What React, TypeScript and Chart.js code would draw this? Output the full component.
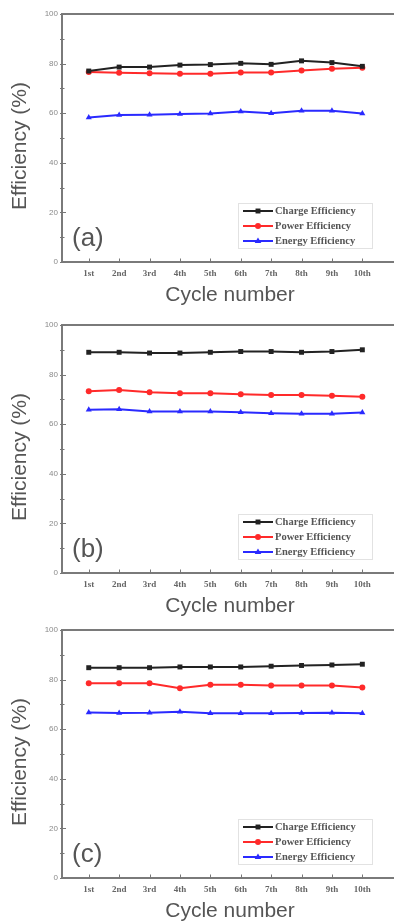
import React, { useEffect, useRef } from 'react';
import { Chart, registerables } from 'chart.js';

Chart.register(...registerables);

// ---- data ----
const cycleLabels = ['1st', '2nd', '3rd', '4th', '5th', '6th', '7th', '8th', '9th', '10th'];
const seriesNames = ['Charge Efficiency', 'Power Efficiency', 'Energy Efficiency'];
const panelTags = ['(a)', '(b)', '(c)'];
const yTickValues = [0, 20, 40, 60, 80, 100];

const chargeA = [77.0, 78.6, 78.6, 79.4, 79.6, 80.1, 79.7, 81.1, 80.4, 78.9];
const powerA = [76.6, 76.3, 76.1, 75.9, 75.9, 76.4, 76.4, 77.2, 77.9, 78.3];
const energyA = [58.3, 59.3, 59.4, 59.7, 59.9, 60.7, 60.0, 61.0, 61.0, 59.9];

const chargeB = [89.0, 89.0, 88.7, 88.7, 89.0, 89.3, 89.3, 89.0, 89.3, 90.0];
const powerB = [73.3, 73.8, 72.9, 72.5, 72.5, 72.1, 71.8, 71.8, 71.5, 71.1];
const energyB = [65.8, 66.0, 65.1, 65.1, 65.1, 64.8, 64.4, 64.2, 64.2, 64.7];

const chargeC = [84.8, 84.8, 84.8, 85.1, 85.1, 85.1, 85.4, 85.7, 85.9, 86.2];
const powerC = [78.5, 78.5, 78.5, 76.5, 77.9, 77.9, 77.6, 77.6, 77.6, 76.8];
const energyC = [66.7, 66.5, 66.6, 67.0, 66.4, 66.4, 66.4, 66.5, 66.6, 66.4];

const panelSeries = [
  [chargeA, powerA, energyA],
  [chargeB, powerB, energyB],
  [chargeC, powerC, energyC],
];

// ---- styles ----
const W = 394;
const H = 308;
const panelTops = [0, 311, 616];
const seriesColors = ['#222222', '#ff2a2a', '#2a2aff'];
const seriesPointStyles = ['rect', 'circle', 'triangle'];
const seriesRadius = [3.5, 3, 3.5];
const frameColor = '#7a7a7a';
const textColor = '#555555';

function drawMarker(ctx: CanvasRenderingContext2D, style: string, x: number, y: number, r: number, color: string) {
  ctx.fillStyle = color;
  ctx.beginPath();
  if (style === 'rect') {
    const s = r * Math.SQRT1_2;
    ctx.rect(x - s, y - s, 2 * s, 2 * s);
  } else if (style === 'circle') {
    ctx.arc(x, y, r, 0, Math.PI * 2);
  } else {
    ctx.moveTo(x, y - r);
    ctx.lineTo(x + r * 0.95, y + r * 0.6);
    ctx.lineTo(x - r * 0.95, y + r * 0.6);
    ctx.closePath();
  }
  ctx.fill();
}

function makeDecorPlugin(tag: string) {
  return {
    id: 'decor',
    beforeDatasetsDraw(chart: any) {
      const { ctx, chartArea: ca, scales } = chart;
      const x = scales.x;
      const y = scales.y;
      ctx.save();
      ctx.strokeStyle = frameColor;
      ctx.lineWidth = 2;
      ctx.beginPath();
      ctx.moveTo(W + 2, ca.top);
      ctx.lineTo(ca.left, ca.top);
      ctx.lineTo(ca.left, ca.bottom);
      ctx.lineTo(W + 2, ca.bottom);
      ctx.stroke();
      ctx.lineWidth = 1;
      ctx.strokeStyle = '#777777';
      for (let v = 0; v <= 100; v += 10) {
        const yy = Math.round(y.getPixelForValue(v)) + 0.5;
        const len = v % 20 === 0 ? 4 : 2.5;
        ctx.beginPath();
        ctx.moveTo(ca.left - 2, yy);
        ctx.lineTo(ca.left + len, yy);
        ctx.stroke();
      }
      cycleLabels.forEach((_, i) => {
        const xx = Math.round(x.getPixelForValue(i + 1)) + 0.5;
        ctx.beginPath();
        ctx.moveTo(xx, ca.bottom + 1);
        ctx.lineTo(xx, ca.bottom - 3.5);
        ctx.stroke();
      });
      ctx.restore();
    },
    afterDraw(chart: any) {
      const { ctx } = chart;
      ctx.save();
      // axis titles
      ctx.fillStyle = textColor;
      ctx.font = '21px "Liberation Sans", Arial, sans-serif';
      ctx.textAlign = 'center';
      ctx.textBaseline = 'middle';
      ctx.fillText('Cycle number', 230, 295);
      ctx.save();
      ctx.translate(20, 146);
      ctx.rotate(-Math.PI / 2);
      ctx.fillText('Efficiency (%)', 0, 0);
      ctx.restore();
      // panel tag
      ctx.font = '26px "Liberation Sans", Arial, sans-serif';
      ctx.textAlign = 'left';
      ctx.fillText(tag, 72, 239);
      // legend
      ctx.fillStyle = '#ffffff';
      ctx.fillRect(238, 203, 134, 45);
      ctx.strokeStyle = '#e2e2e2';
      ctx.lineWidth = 1;
      ctx.strokeRect(238.5, 203.5, 134, 45);
      chart.data.datasets.forEach((ds: any, i: number) => {
        const ry = 211 + i * 15;
        ctx.strokeStyle = ds.borderColor;
        ctx.lineWidth = 2;
        ctx.beginPath();
        ctx.moveTo(243, ry);
        ctx.lineTo(273, ry);
        ctx.stroke();
        drawMarker(ctx, ds.pointStyle, 258, ry, ds.pointRadius, ds.borderColor);
        ctx.fillStyle = textColor;
        ctx.font = 'bold 10.5px "Liberation Serif", "Times New Roman", serif';
        ctx.textAlign = 'left';
        ctx.textBaseline = 'middle';
        ctx.fillText(ds.label, 275, ry + 0.5);
      });
      ctx.restore();
    },
  };
}

function Panel({ index }: { index: number }) {
  const ref = useRef<HTMLCanvasElement | null>(null);
  useEffect(() => {
    const canvas = ref.current;
    if (!canvas) return;
    const series = panelSeries[index];
    const chart = new Chart(canvas, {
      type: 'line',
      data: {
        datasets: series.map((vals, i) => ({
          label: seriesNames[i],
          data: vals.map((v, k) => ({ x: k + 1, y: v })),
          borderColor: seriesColors[i],
          backgroundColor: seriesColors[i],
          pointBackgroundColor: seriesColors[i],
          pointBorderColor: seriesColors[i],
          pointStyle: seriesPointStyles[i],
          pointRadius: seriesRadius[i],
          pointBorderWidth: 0,
          borderWidth: 2,
          tension: 0,
          fill: false,
        })),
      },
      options: {
        animation: false,
        responsive: false,
        maintainAspectRatio: false,
        devicePixelRatio: 1,
        layout: { padding: { top: 14, right: 0, left: 0, bottom: 0 } },
        plugins: { legend: { display: false }, tooltip: { enabled: false } },
        scales: {
          x: {
            type: 'linear',
            min: 0.12,
            max: 10.91,
            grid: { display: false, drawTicks: false },
            border: { display: false },
            afterFit: (s: any) => { s.height = 46; },
            afterBuildTicks: (s: any) => { s.ticks = cycleLabels.map((_, i) => ({ value: i + 1 })); },
            ticks: {
              autoSkip: false,
              maxRotation: 0,
              padding: 6,
              color: '#666666',
              font: { family: '"Liberation Serif", "Times New Roman", serif', size: 9, weight: 'bold' },
              callback: (v: any) => cycleLabels[Math.round(Number(v)) - 1] ?? '',
            },
          },
          y: {
            type: 'linear',
            min: 0,
            max: 100,
            grid: { display: false, drawTicks: false },
            border: { display: false },
            afterFit: (s: any) => { s.width = 62; },
            afterBuildTicks: (s: any) => { s.ticks = yTickValues.map((v) => ({ value: v })); },
            ticks: {
              padding: 4,
              color: '#8a8a8a',
              font: { family: '"Liberation Sans", Arial, sans-serif', size: 8 },
            },
          },
        },
      },
      plugins: [makeDecorPlugin(panelTags[index])],
    } as any);
    return () => chart.destroy();
  }, [index]);
  return (
    <canvas
      ref={ref}
      width={W}
      height={H}
      style={{ position: 'absolute', left: 0, top: panelTops[index], width: W, height: H, display: 'block' }}
    />
  );
}

export default function App() {
  return (
    <div style={{ position: 'absolute', left: 0, top: 0, width: W, height: 924, background: '#ffffff', overflow: 'hidden' }}>
      {[0, 1, 2].map((i) => (
        <Panel key={i} index={i} />
      ))}
    </div>
  );
}
